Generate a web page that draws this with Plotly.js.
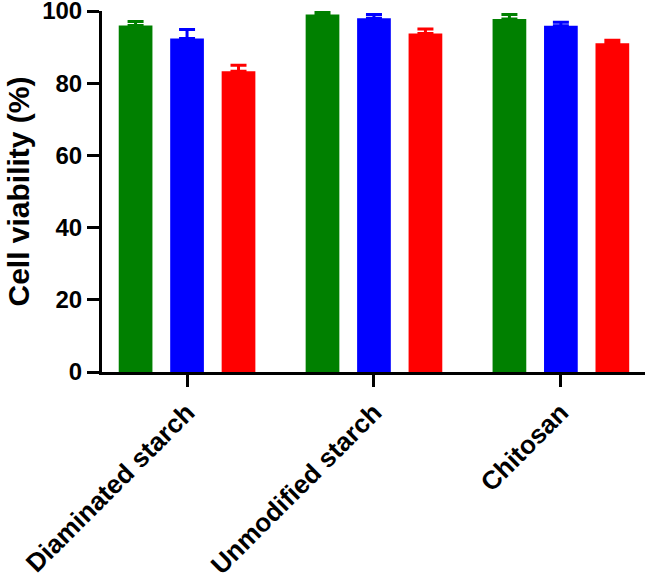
<!DOCTYPE html>
<html>
<head>
<meta charset="utf-8">
<script src="https://cdn.plot.ly/plotly-3.0.1.min.js"></script>
<style>html,body{margin:0;padding:0;background:#fff}#chart{width:648px;height:579px}</style>
</head>
<body>
<div id="chart"></div>
<script>
const categories = ["Diaminated starch", "Unmodified starch", "Chitosan"];
const greenValues = [96.0, 99.0, 97.8];
const greenErrors = [1.1, 0.8, 1.2];
const blueValues = [92.4, 98.0, 95.9];
const blueErrors = [2.5, 1.0, 1.0];
const redValues = [83.3, 93.8, 91.1];
const redErrors = [1.7, 1.2, 0.8];
const yTicks = [0, 20, 40, 60, 80, 100];

function trace(vals, errs, color) {
  return {
    type: 'bar', x: categories, y: vals,
    marker: {color: color, line: {width: 0}},
    error_y: {type: 'data', symmetric: false, array: errs, arrayminus: errs.map(() => 0),
      color: color, thickness: 3, width: 8},
    cliponaxis: false, showlegend: false, hoverinfo: 'none'
  };
}
const fam = '"Liberation Sans", Arial, Helvetica, sans-serif';
const yFont = {family: fam, size: 24, color: '#000', weight: 'bold'};
const xFont = {family: fam, size: 26, color: '#000', weight: 'bold'};
const titleFont = {family: fam, size: 30, color: '#000', weight: 'bold'};
const data = [trace(greenValues, greenErrors, '#008000'), trace(blueValues, blueErrors, '#0000ff'), trace(redValues, redErrors, '#ff0000')];
const layout = {
  width: 648, height: 579,
  margin: {l: 102, r: 3, t: 11, b: 207},
  paper_bgcolor: '#fff', plot_bgcolor: '#fff',
  barmode: 'group', bargap: 0.174, bargroupgap: 0.345,
  font: yFont,
  xaxis: {range: [-0.455, 2.45], showline: true, linewidth: 3, linecolor: '#000',
    ticks: 'outside', ticklen: 12, tickwidth: 3, tickcolor: '#000', tickangle: -45,
    tickfont: xFont, showgrid: false, zeroline: false, ticklabeloverflow: 'allow'},
  yaxis: {range: [0, 100], tickvals: yTicks, showline: true, linewidth: 3, linecolor: '#000',
    ticks: 'outside', ticklen: 12, tickwidth: 3, tickcolor: '#000', tickfont: yFont,
    showgrid: false, zeroline: false, ticklabeloverflow: 'allow',
    title: {text: 'Cell viability (%)', font: titleFont, standoff: 4}}
};
Plotly.newPlot('chart', data, layout, {displayModeBar: false, staticPlot: true});
</script>
</body>
</html>
